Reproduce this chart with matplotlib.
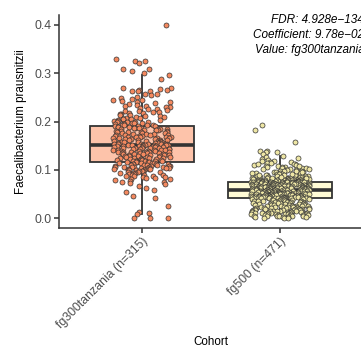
import numpy as np
import matplotlib
matplotlib.use("Agg")
import matplotlib.pyplot as plt

plt.rcParams['font.family'] = ['Liberation Sans', 'DejaVu Sans']

# Cohort labels and per-sample relative abundances
cohorts = ["fg300tanzania (n=315)", "fg500 (n=471)"]

tanzania = [
    0.400, 0.330, 0.326, 0.324, 0.320, 0.309, 0.309, 0.305, 0.301, 0.297, 0.287,
    0.270, 0.270, 0.268, 0.266, 0.266, 0.264, 0.264, 0.262, 0.256, 0.256,
    0.254, 0.251, 0.249, 0.247, 0.245, 0.244, 0.243, 0.241, 0.240,
    0.238, 0.236, 0.235, 0.233, 0.231, 0.230, 0.229, 0.227, 0.226, 0.225,
    0.224, 0.222, 0.221, 0.220, 0.219, 0.218, 0.217, 0.216, 0.215, 0.214,
    0.213, 0.212, 0.211, 0.210, 0.209, 0.208, 0.207, 0.206, 0.205, 0.205,
    0.204, 0.203, 0.202, 0.201, 0.200, 0.200, 0.199, 0.198, 0.197, 0.197,
    0.196, 0.195, 0.195, 0.194, 0.193, 0.193, 0.192, 0.192, 0.191,
    0.190, 0.190, 0.189, 0.189, 0.188, 0.187, 0.187, 0.186, 0.186, 0.185,
    0.185, 0.184, 0.183, 0.183, 0.182, 0.182, 0.181, 0.180, 0.180, 0.179,
    0.179, 0.178, 0.178, 0.177, 0.176, 0.176, 0.175, 0.175, 0.174, 0.173,
    0.173, 0.172, 0.172, 0.171, 0.170, 0.170, 0.169, 0.169, 0.168, 0.167,
    0.167, 0.166, 0.166, 0.165, 0.165, 0.164, 0.163, 0.163, 0.162, 0.162,
    0.161, 0.161, 0.160, 0.160, 0.159, 0.159, 0.158, 0.158, 0.157, 0.157,
    0.157, 0.156, 0.156, 0.155, 0.155, 0.155, 0.154, 0.154, 0.154, 0.153,
    0.153, 0.153, 0.153, 0.152, 0.152, 0.152, 0.152, 0.152, 0.152,
    0.151, 0.151, 0.151, 0.150, 0.150, 0.150, 0.149, 0.149, 0.149, 0.148,
    0.148, 0.147, 0.147, 0.147, 0.146, 0.146, 0.145, 0.145, 0.145, 0.144,
    0.144, 0.143, 0.143, 0.142, 0.142, 0.142, 0.141, 0.141, 0.140, 0.140,
    0.139, 0.139, 0.138, 0.138, 0.137, 0.137, 0.136, 0.136, 0.135, 0.135,
    0.134, 0.134, 0.133, 0.133, 0.132, 0.132, 0.131, 0.131, 0.130, 0.130,
    0.129, 0.129, 0.128, 0.128, 0.127, 0.127, 0.126, 0.126, 0.125, 0.125,
    0.124, 0.124, 0.123, 0.123, 0.122, 0.122, 0.121, 0.121, 0.120, 0.120,
    0.119, 0.119, 0.119, 0.118, 0.118, 0.118, 0.117, 0.117, 0.117,
    0.116, 0.116, 0.115, 0.115, 0.114, 0.114, 0.113, 0.113, 0.112, 0.112,
    0.111, 0.111, 0.110, 0.110, 0.109, 0.109, 0.108, 0.108, 0.107, 0.107,
    0.106, 0.106, 0.105, 0.105, 0.104, 0.104, 0.103, 0.103, 0.102, 0.102,
    0.101, 0.101, 0.100, 0.100, 0.099, 0.099, 0.098, 0.097, 0.097, 0.096,
    0.095, 0.095, 0.094, 0.093, 0.093, 0.092, 0.091, 0.090, 0.090, 0.089,
    0.088, 0.087, 0.087, 0.086, 0.085, 0.084, 0.083, 0.082, 0.081, 0.080,
    0.078, 0.076, 0.074, 0.072, 0.070, 0.067, 0.063, 0.058, 0.054, 0.047,
    0.043, 0.025, 0.013, 0.010, 0.009, 0.001, 0.000, 0.000,
]

fg500 = [
    0.192, 0.183, 0.157, 0.140, 0.140, 0.138, 0.136, 0.133, 0.128, 0.126, 0.124, 0.122,
    0.120, 0.119, 0.118, 0.117, 0.116, 0.115, 0.114, 0.113, 0.112, 0.111,
    0.110, 0.109, 0.108, 0.107, 0.106, 0.105, 0.104, 0.103, 0.102, 0.101,
    0.100, 0.100, 0.099, 0.098, 0.098, 0.097, 0.096, 0.096, 0.095, 0.094,
    0.094, 0.093, 0.093, 0.092, 0.091, 0.091, 0.090, 0.090, 0.089, 0.089,
    0.088, 0.088, 0.087, 0.087, 0.087, 0.086, 0.086, 0.085, 0.085, 0.085,
    0.084, 0.084, 0.084, 0.083, 0.083, 0.083, 0.082, 0.082, 0.082, 0.082,
    0.081, 0.081, 0.081, 0.081, 0.080, 0.080, 0.080, 0.080, 0.080, 0.079,
    0.079, 0.079, 0.079, 0.079, 0.078, 0.078, 0.078, 0.078, 0.078, 0.078,
    0.077, 0.077, 0.077, 0.077, 0.077, 0.077, 0.077, 0.076, 0.076, 0.076,
    0.076, 0.076, 0.076, 0.076, 0.076, 0.076, 0.112, 0.108, 0.104, 0.101,
    0.097, 0.095, 0.092, 0.090, 0.089, 0.086, 0.084, 0.083,
    0.075, 0.075, 0.075, 0.075, 0.075, 0.075, 0.074, 0.074, 0.074, 0.074,
    0.074, 0.074, 0.074, 0.073, 0.073, 0.073, 0.073, 0.073, 0.073, 0.073,
    0.072, 0.072, 0.072, 0.072, 0.072, 0.072, 0.071, 0.071, 0.071, 0.071,
    0.071, 0.071, 0.071, 0.070, 0.070, 0.070, 0.070, 0.070, 0.070, 0.070,
    0.069, 0.069, 0.069, 0.069, 0.069, 0.069, 0.068, 0.068, 0.068, 0.068,
    0.068, 0.068, 0.068, 0.067, 0.067, 0.067, 0.067, 0.067, 0.067, 0.067,
    0.066, 0.066, 0.066, 0.066, 0.066, 0.066, 0.065, 0.065, 0.065, 0.065,
    0.065, 0.065, 0.065, 0.064, 0.064, 0.064, 0.064, 0.064, 0.064, 0.064,
    0.063, 0.063, 0.063, 0.063, 0.063, 0.063, 0.062, 0.062, 0.062, 0.062,
    0.062, 0.062, 0.062, 0.061, 0.061, 0.061, 0.061, 0.061, 0.061, 0.061,
    0.060, 0.060, 0.060, 0.060, 0.060, 0.060, 0.059, 0.059, 0.059, 0.059,
    0.059, 0.059, 0.059, 0.058, 0.058, 0.058, 0.058, 0.058, 0.058, 0.058,
    0.057, 0.057, 0.057, 0.057, 0.057, 0.057, 0.056, 0.056, 0.056, 0.056,
    0.056, 0.056, 0.056, 0.055, 0.055, 0.055, 0.055, 0.055, 0.055, 0.055,
    0.054, 0.054, 0.054, 0.054, 0.054, 0.054, 0.053, 0.053, 0.053, 0.053,
    0.053, 0.053, 0.053, 0.052, 0.052, 0.052, 0.052, 0.052, 0.052, 0.052,
    0.051, 0.051, 0.051, 0.051, 0.051, 0.051, 0.050, 0.050, 0.050, 0.050,
    0.050, 0.050, 0.050, 0.049, 0.049, 0.049, 0.049, 0.049, 0.049, 0.049,
    0.048, 0.048, 0.048, 0.048, 0.048, 0.048, 0.047, 0.047, 0.047, 0.047,
    0.047, 0.047, 0.047, 0.046, 0.046, 0.046, 0.046, 0.046, 0.046, 0.046,
    0.045, 0.045, 0.045, 0.045, 0.045, 0.045, 0.044, 0.044, 0.044, 0.044,
    0.044, 0.044, 0.044, 0.043, 0.043, 0.043, 0.043, 0.043, 0.043, 0.043,
    0.042, 0.042, 0.042, 0.042, 0.042, 0.042, 0.041, 0.041, 0.041, 0.041,
    0.040, 0.040, 0.040, 0.039, 0.039, 0.039, 0.038, 0.038, 0.038, 0.037,
    0.037, 0.037, 0.036, 0.036, 0.036, 0.035, 0.035, 0.035, 0.034, 0.034,
    0.034, 0.033, 0.033, 0.033, 0.032, 0.032, 0.032, 0.031, 0.031, 0.031,
    0.030, 0.030, 0.030, 0.029, 0.029, 0.029, 0.028, 0.028, 0.028, 0.027,
    0.027, 0.027, 0.026, 0.026, 0.026, 0.025, 0.025, 0.025, 0.024, 0.024,
    0.024, 0.023, 0.023, 0.023, 0.022, 0.022, 0.022, 0.021, 0.021, 0.021,
    0.020, 0.020, 0.020, 0.019, 0.019, 0.019, 0.018, 0.018, 0.018, 0.017,
    0.017, 0.017, 0.016, 0.016, 0.016, 0.015, 0.015, 0.015, 0.014, 0.014,
    0.014, 0.013, 0.013, 0.013, 0.012, 0.012, 0.012, 0.011, 0.011, 0.011,
    0.010, 0.010, 0.010, 0.009, 0.009, 0.009, 0.008, 0.008, 0.008, 0.007,
    0.007, 0.007, 0.006, 0.006, 0.006, 0.005, 0.005, 0.005, 0.004, 0.004,
    0.004, 0.003, 0.003, 0.002, 0.002, 0.001, 0.001, 0.000,
]

# box summaries as drawn (q1, median, q3, whiskers)
q1 = [0.117, 0.041]
med = [0.152, 0.058]
q3 = [0.191, 0.076]
whislo = [0.009, 0.000]
whishi = [0.297, 0.128]

point_colors = ["#F4895F", "#EEE6A5"]
box_colors = ["#FDC3AA", "#FFFBD5"]

annot_lines = ["FDR: 4.928e\u2212134", "Coefficient: 9.78e\u221202", "Value: fg300tanzania"]

fig = plt.figure(figsize=(3.61, 3.53), dpi=100)
ax = fig.add_axes([59 / 361, 125 / 353, 304 / 361, 213 / 353])

stats = []
for i in range(2):
    stats.append(dict(q1=q1[i], med=med[i], q3=q3[i], whislo=whislo[i],
                      whishi=whishi[i], fliers=[]))

bp = ax.bxp(stats, positions=[1, 2], widths=0.75, patch_artist=True,
            showcaps=False, showfliers=False,
            boxprops=dict(edgecolor="#333333", linewidth=1.3),
            whiskerprops=dict(color="#333333", linewidth=1.3),
            medianprops=dict(color="#333333", linewidth=2.6, solid_capstyle="butt"))
for patch, c in zip(bp["boxes"], box_colors):
    patch.set_facecolor(c)

# jittered points; horizontal spread from a fixed hash of the index
for i, vals in enumerate([tanzania, fg500]):
    vals = np.array(vals)
    k = np.arange(len(vals), dtype=float) + 1 + i * 1000
    h = (np.sin(k * 12.9898) * 43758.5453) % 1.0
    offs = (h - 0.5) * 0.42
    ax.scatter(i + 1 + offs, vals, s=13, c=point_colors[i],
               edgecolors="#333333", linewidths=0.5, zorder=3)

ax.set_xlim(0.4, 2.6)
ax.set_ylim(-0.02, 0.42)
ax.set_yticks([0.0, 0.1, 0.2, 0.3, 0.4])
ax.set_yticklabels(["0.0", "0.1", "0.2", "0.3", "0.4"])
ax.set_xticks([1, 2])
ax.set_xticklabels(cohorts, rotation=45, ha="right", va="top",
                   rotation_mode="anchor")

for s in ["top", "right"]:
    ax.spines[s].set_visible(False)
for s in ["left", "bottom"]:
    ax.spines[s].set_color("#333333")
    ax.spines[s].set_linewidth(1.1)
ax.tick_params(axis="both", colors="#333333", length=3.5, width=1.1,
               labelsize=8.8, labelcolor="#4D4D4D", pad=2)

ax.set_ylabel("Faecalibacterium prausnitzii", fontsize=8.4, labelpad=5)
ax.set_xlabel("Cohort", fontsize=8.4, labelpad=3)

# the annotation runs past the right edge, as in the original
for j, line in enumerate(annot_lines):
    ax.text(2.609, 0.410 - j * 0.031, line, ha="right", va="center",
            fontsize=8.5, style="italic", clip_on=False)

fig.savefig("out.png", dpi=100)
